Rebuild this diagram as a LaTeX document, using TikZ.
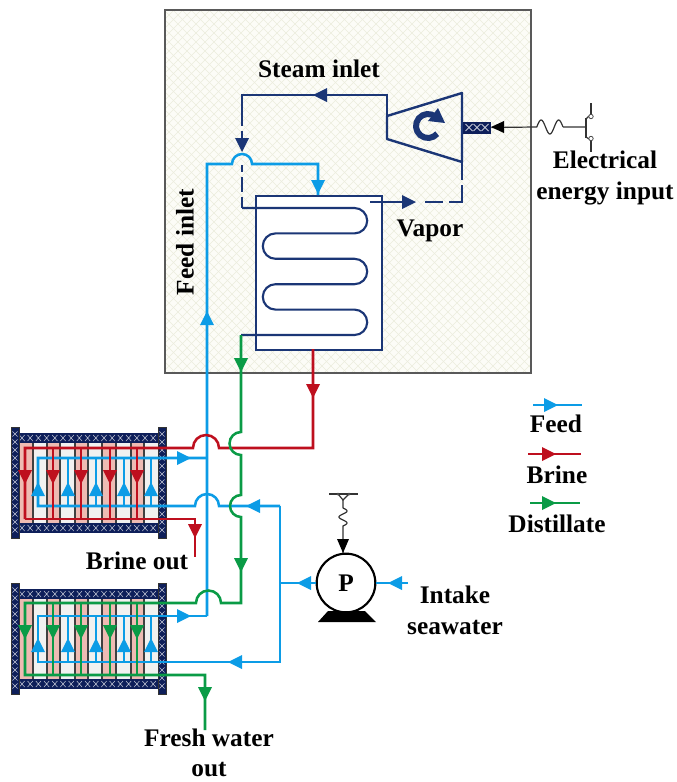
\documentclass[tikz,border=0pt]{standalone}
\usepackage{fontspec}
\setmainfont{Liberation Serif}
\definecolor{feedc}{HTML}{0C9CE6}
\definecolor{brinec}{HTML}{BE0F1E}
\definecolor{distc}{HTML}{0A9B46}
\definecolor{navyc}{HTML}{1B3676}
\definecolor{bandc}{HTML}{0E1F5A}
\definecolor{pinkc}{HTML}{EEBBB3}
\definecolor{tubec}{HTML}{F1F1F0}
\definecolor{hatchc}{HTML}{ECEDDD}
\definecolor{backc}{HTML}{FCFCF7}
\tikzset{
  feedl/.style={draw=feedc,line width=1.9pt},
  brinel/.style={draw=brinec,line width=1.9pt},
  distl/.style={draw=distc,line width=1.9pt},
  navyl/.style={draw=navyc,line width=1.8pt},
  wirel/.style={draw=black!80,line width=.9pt},
  label/.style={font=\fontsize{19}{21}\selectfont\bfseries,inner sep=0pt,align=center},
  hatchl/.style={draw=white!75!bandc,line width=.4pt},
  divl/.style={draw=black!75,line width=1.5pt},
}
% arrow tip: colour, x, y, rotation (0 right, 90 up, 180 left, 270 down)
\newcommand{\tipat}[4]{\fill[#1,shift={(#2,#3)},rotate=#4] (7,0)--(-7,7)--(-7,-7)--cycle;}
% one heat exchanger: name, flange top, flange bottom
\newcommand{\shell}[3]{%
  \pgfmathsetmacro{\ta}{#2+6}\pgfmathsetmacro{\tb}{\ta+10}
  \pgfmathsetmacro{\bb}{#3-5}\pgfmathsetmacro{\ba}{\bb-10}
  \fill[tubec] (19,\tb) rectangle (158,\ba);
  \foreach \a/\b in {19/33,47/60,102/116,131/144}{\fill[pinkc] (\a,\tb) rectangle (\b,\ba);}
  \fill[pinkc] (75,\tb-1.5) rectangle (88,\ba+2);
  \foreach \a in {33,47,60,75,88,102,116,131,144}{\draw[divl] (\a,\tb) -- (\a,\ba);}
  \fill[bandc] (19,\ta) rectangle (158,\tb);
  \fill[bandc] (19,\ba) rectangle (158,\bb);
  \foreach \k in {0,...,16}{
    \pgfmathsetmacro{\px}{22+8.2*\k}
    \draw[hatchl] (\px-2.6,\ta+2) -- (\px+2.6,\tb-2) (\px-2.6,\tb-2) -- (\px+2.6,\ta+2);
    \draw[hatchl] (\px-2.6,\ba+2) -- (\px+2.6,\bb-2) (\px-2.6,\bb-2) -- (\px+2.6,\ba+2);
  }
  \fill[bandc,draw=black!80,line width=.7pt] (11,#2) rectangle (19,#3);
  \fill[bandc,draw=black!80,line width=.7pt] (158,#2) rectangle (166,#3);
  \foreach \k in {0,...,12}{
    \pgfmathsetmacro{\py}{#2+7+8*\k}
    \draw[hatchl] (12.5,\py-2.6) -- (17.5,\py+2.6) (12.5,\py+2.6) -- (17.5,\py-2.6);
    \draw[hatchl] (159.5,\py-2.6) -- (164.5,\py+2.6) (159.5,\py+2.6) -- (164.5,\py-2.6);
  }
  \coordinate (#1) at (88,#2);
}
\begin{document}
\begin{tikzpicture}[x=.75pt,y=-.75pt]
\useasboundingbox (0,0) rectangle (677,782);
% process block
\fill[backc] (165,10) rectangle (531,373);
\begin{scope}
  \clip (165,10) rectangle (531,373);
  \foreach \k in {0,...,92}{
    \draw[hatchc,line width=.5pt] (165+9*\k-370,10) -- (165+9*\k,380);
    \draw[hatchc,line width=.5pt] (165+9*\k-370,380) -- (165+9*\k,10);
  }
\end{scope}
\draw[black!65,line width=1pt] (165,10) rectangle (531,373);

% evaporator
\node[draw=navyc,fill=white,line width=1.8pt,minimum width=94.5pt,minimum height=115.5pt,inner sep=0pt,anchor=north west] (evap) at (255,195) {};
\coordinate (coilin) at (242,208);
\coordinate (coilout) at (241,335);
\draw[navyl,line width=1.6pt] (coilin) -- (354.5,208) arc[start angle=-90,end angle=90,radius=12.7]
  -- (275.5,233.4) arc[start angle=270,end angle=90,radius=12.7]
  -- (354.5,258.8) arc[start angle=-90,end angle=90,radius=12.7]
  -- (275.5,284.2) arc[start angle=270,end angle=90,radius=12.7]
  -- (354.5,309.6) arc[start angle=-90,end angle=90,radius=12.7] -- (coilout);

% turbine
\coordinate (tbl) at (387,116);
\draw[navyl,line join=round] (387,116) -- (462,93) -- (462,162) -- (387,139) -- cycle;
\draw[navyc,line width=4.5pt] (428,126) ++(40:12) arc[start angle=40,end angle=310,radius=12];
\fill[navyc] (438,108) -- (445,123) -- (428,121) -- cycle;
\node[fill=bandc,minimum width=21pt,minimum height=9pt,inner sep=0pt] (shaft) at (477,127.5) {};
\foreach \k in {0,1,2}{
  \pgfmathsetmacro{\px}{469+8*\k}
  \draw[hatchl,line width=.6pt] (\px-3.5,124) -- (\px+3.5,131) (\px-3.5,131) -- (\px+3.5,124);
}
% steam lines
\coordinate (steamtop) at (242,95);
\coordinate (tbtop) at (387,95);
\draw[navyl] (tbl) -- (tbtop) -- (steamtop) -- (242,126);
\draw[navyl] (242,131) -- (242,150);
\draw[navyl] (242,165) -- (242,172) (242,177) -- (242,192) (242,197) -- (coilin);
\tipat{navyc}{242}{145}{270}
\tipat{navyc}{320}{95}{180}
\draw[navyl] (370,202) -- (405,202) (425,202) -- (443,202) (449,202) -- (462,202) -- (462,185) (462,180) -- (462,162);
\tipat{navyc}{409}{202}{0}

% electrical input
\coordinate (swbar) at (586,127);
\draw[wirel] (swbar) -- (563,127)
  plot[domain=0:1.5,samples=40,smooth] ({563-17.5*\x},{127-7*sin(\x*360)})
  -- (shaft.east);
\fill[black] (491,127) -- (504,121) -- (504,133) -- cycle;
\draw[wirel,line width=1.1pt] (586,118) -- (586,138);
\draw[wirel] (591,103) -- (591,114) (591,141) -- (591,152);
\draw[wirel] (589,116) -- (586,119) (589,139) -- (586,137);
\draw[black!70,line width=.6pt,fill=white] (591,116.5) circle[radius=2.2] (591,138.5) circle[radius=2.2];

% heat exchangers
\shell{hxa}{427}{538}
\shell{hxb}{583}{694}

% feed lines
\coordinate (fmt) at (207,164);
\coordinate (feedend) at (318,195);
\draw[feedl] (207,616) -- (fmt) -- (232,164) arc[start angle=180,end angle=360,radius=10] -- (318,164) -- (feedend);
\tipat{feedc}{318}{187}{270}
\tipat{feedc}{207}{318}{90}
% upper unit feed
\draw[feedl] (207,458) -- (38,458) -- (38,506) -- (195,506) arc[start angle=180,end angle=360,radius=12] -- (280,506);
\foreach \a in {68,96,124,151}{\draw[feedl] (\a,458) -- (\a,506);}
\foreach \a in {38,68,96,124,151}{\tipat{feedc}{\a}{489}{90}}
\tipat{feedc}{184}{458}{0}
\tipat{feedc}{253}{506}{180}
% lower unit feed
\draw[feedl] (207,616) -- (38,616) -- (38,662) -- (280,662) -- (280,506);
\foreach \a in {68,96,124,151}{\draw[feedl] (\a,616) -- (\a,662);}
\foreach \a in {38,68,96,124,151}{\tipat{feedc}{\a}{645}{90}}
\tipat{feedc}{184}{616}{0}
\tipat{feedc}{235}{662}{180}
% pump
\node[draw=black,fill=white,circle,line width=1.6pt,minimum size=44pt,inner sep=0pt,font=\fontsize{19}{21}\selectfont\bfseries] (pump) at (346,583) {P};
\fill[black] (328,611) -- (365,611) -- (376,622) -- (318,622) -- cycle;
\coordinate (teein) at (280,583);
\coordinate (seain) at (408,583);
\draw[feedl] (pump.west) -- (teein);
\draw[feedl] (seain) -- (pump.east);
\tipat{feedc}{304}{583}{180}
\tipat{feedc}{395}{583}{180}
% pump power
\coordinate (pwtop) at (343,495);
\draw[wirel] (329,494) -- (358,494);
\draw[wirel] (338,494) -- (343,500) -- (349,494);
\fill[black!70] (338,494) circle[radius=1.5] (349,494) circle[radius=1.5];
\draw[wirel] (343,500) -- (343,508)
  plot[domain=0:1.5,samples=30,smooth] ({343+4*sin(\x*360)},{508+12*\x})
  -- (343,553);
\fill[black] (343,553) -- (337,539) -- (349,539) -- cycle;

% brine lines
\coordinate (evapb) at (313,349);
\draw[brinel] (25,519) -- (25,448) -- (193,448) arc[start angle=180,end angle=360,radius=13] -- (313,448) -- (evapb);
\foreach \a in {53,81,110,137}{\draw[brinel] (\a,448) -- (\a,519);}
\draw[brinel] (25,519) -- (195,519) -- (195,557);
\foreach \a in {25,53,81,110,137}{\tipat{brinec}{\a}{477}{270}}
\tipat{brinec}{195}{531}{270}
\tipat{brinec}{313}{391}{270}

% distillate lines
\draw[distl] (coilout) -- (241,432) arc[start angle=270,end angle=90,radius=11.5]
  -- (241,495) arc[start angle=270,end angle=90,radius=11]
  -- (241,603) -- (221,603) arc[start angle=0,end angle=-180,radius=12.5] -- (25,603) -- (25,675) -- (205,675) -- (205,730);
\foreach \a in {53,81,110,137}{\draw[distl] (\a,603) -- (\a,675);}
\foreach \a in {25,53,81,110,137}{\tipat{distc}{\a}{632}{270}}
\tipat{distc}{241}{365}{270}
\tipat{distc}{241}{565}{270}
\tipat{distc}{205}{694}{270}

% legend
\coordinate (la) at (533,405);\coordinate (lb) at (582,405);
\draw[feedl] (la) -- (lb); \tipat{feedc}{551}{405}{0}
\coordinate (lc) at (528,454);\coordinate (ld) at (581,454);
\draw[brinel] (lc) -- (ld); \tipat{brinec}{549}{454}{0}
\coordinate (le) at (530,503);\coordinate (lf) at (580,503);
\draw[distl] (le) -- (lf); \tipat{distc}{549}{503}{0}

% labels
\node[label] (t1) at (319,69) {Steam inlet};
\node[label,rotate=90] (t2) at (185,242) {Feed inlet};
\node[label] (t3) at (430,231) {Vapor};
\node[label] (t4) at (605,178) {Electrical\\[2pt]energy input};
\node[label] (t5) at (137,561) {Brine out};
\node[label] (t6) at (455,610) {Intake\\[2pt]seawater};
\node[label] (t7) at (209,753) {Fresh water\\[2pt]out};
\node[label] (t8) at (556,424) {Feed};
\node[label] (t9) at (557,475) {Brine};
\node[label] (t10) at (557,524) {Distillate};
\end{tikzpicture}
\end{document}
